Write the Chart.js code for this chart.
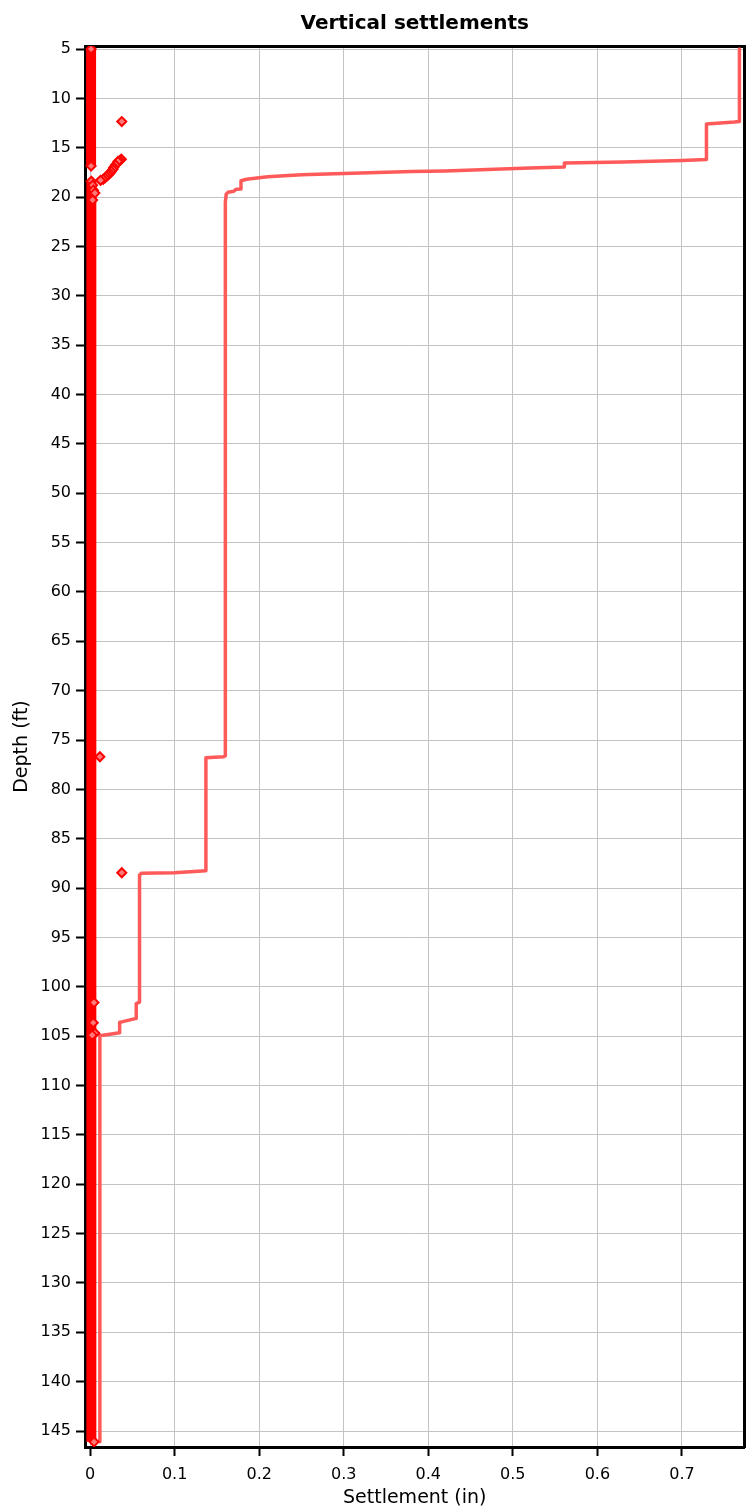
<!DOCTYPE html>
<html>
<head>
<meta charset="utf-8">
<script src="https://cdn.jsdelivr.net/npm/chart.js@4.4.1/dist/chart.umd.min.js"></script>
<style>
  html, body { margin: 0; padding: 0; background: #ffffff; }
  canvas { display: block; }
</style>
</head>
<body>
<canvas id="c" width="751" height="1511"></canvas>
<script>
// ---------- data ----------
const chartTitle = 'Vertical settlements';
const xTitle = 'Settlement (in)';
const yTitle = 'Depth (ft)';

const xTicks = [0, 0.1, 0.2, 0.3, 0.4, 0.5, 0.6, 0.7];
const yTicks = [5, 10, 15, 20, 25, 30, 35, 40, 45, 50, 55, 60, 65, 70, 75, 80, 85, 90, 95, 100, 105, 110, 115, 120, 125, 130, 135, 140, 145];

// cumulative settlement profile (line)
const profileSettlement = [0.768, 0.768, 0.762, 0.729, 0.729, 0.700, 0.630, 0.561, 0.561, 0.520, 0.470, 0.420, 0.380, 0.300, 0.250, 0.210, 0.185, 0.1785, 0.1785, 0.1727, 0.1700, 0.1630, 0.1610, 0.1600, 0.1600, 0.1580, 0.1370, 0.1370, 0.1000, 0.0605, 0.0585, 0.0585, 0.0546, 0.0546, 0.0350, 0.0350, 0.0116, 0.0116];
const profileDepth      = [5.0,   12.35, 12.4,  12.6,  16.2,  16.3,  16.45, 16.55, 16.95, 17.05, 17.2,  17.35, 17.42, 17.6,  17.75, 17.95, 18.2,  18.34,  19.18,  19.2,   19.42,  19.52,  19.7,   20.5,   76.6,   76.7,   76.8,   88.25,  88.45,  88.5,   88.7,   101.55, 101.7,  103.2,  103.6,  104.65, 104.95, 146.1];

// near-zero layer settlements forming a dense band of markers
const bandSettlement = [0.0012, 0.0012, null, 0.0015, 0.0015];
const bandDepth      = [5.0,    16.85,  null, 18.35,  146.1];

// individual layer settlement markers
const markerSettlement = [0.0012, 0.0012, 0.0375, 0.037, 0.035, 0.033, 0.030, 0.028, 0.027, 0.025, 0.0233, 0.0215, 0.0195, 0.0175, 0.0155, 0.0124, 0.0015, 0.003, 0.004, 0.0057, 0.003, 0.0116, 0.0375, 0.0046, 0.0038, 0.0057, 0.0025, 0.0047];
const markerDepth      = [5.0,    16.85,  12.35,  16.17, 16.3,  16.4,  16.75, 17.0,  17.2,  17.4,  17.6,   17.75,  17.9,   18.05,  18.2,   18.3,   18.4,   18.8,  19.3,  19.6,   20.3,  76.7,   88.45,  101.6,  103.65, 104.7,  104.9,  146.1];

const xMin = -0.006, xMax = 0.774;
const yMin = 4.696, yMax = 146.62;

// ---------- build ----------
const toPts = (xs, ys) => xs.map((v, i) => ({ x: v, y: ys[i] }));
const font = 'DejaVu Sans';
const noPad = s => { s.paddingLeft = 0; s.paddingRight = 0; s.paddingTop = 0; s.paddingBottom = 0; };

new Chart(document.getElementById('c').getContext('2d'), {
  type: 'scatter',
  data: {
    datasets: [
      {
        label: 'Layer settlement',
        data: toPts(markerSettlement, markerDepth),
        showLine: false,
        pointStyle: 'rectRot',
        pointRadius: 4.5,
        pointBorderWidth: 2,
        pointBorderColor: '#ff0000',
        pointBackgroundColor: '#ff7a7a',
        xAxisID: 'x', yAxisID: 'y'
      },
      {
        label: 'Layer settlement band',
        data: toPts(bandSettlement, bandDepth),
        showLine: true,
        spanGaps: false,
        borderColor: '#ff0000',
        borderWidth: 10,
        pointRadius: 0,
        xAxisID: 'x', yAxisID: 'y'
      },
      {
        label: 'Cumulative settlement',
        data: toPts(profileSettlement, profileDepth),
        showLine: true,
        borderColor: '#ff5a5a',
        borderWidth: 3.5,
        borderJoinStyle: 'round',
        borderCapStyle: 'round',
        pointRadius: 0,
        xAxisID: 'x', yAxisID: 'y'
      }
    ]
  },
  options: {
    responsive: false,
    devicePixelRatio: 1,
    animation: false,
    layout: { padding: 0 },
    plugins: { legend: { display: false }, tooltip: { enabled: false } },
    scales: {
      x: {
        type: 'linear', position: 'bottom', min: xMin, max: xMax,
        afterBuildTicks: s => { s.ticks = xTicks.map(v => ({ value: v })); },
        afterFit: s => { s.height = 64; noPad(s); },
        ticks: { color: '#000', font: { family: font, size: 16 }, padding: 9, maxRotation: 0, callback: v => String(v) },
        grid: { color: '#c3c3c3', lineWidth: 1, tickColor: '#000', tickLength: 9, tickWidth: 2 },
        border: { color: '#000', width: 3 },
        title: { display: true, text: xTitle, color: '#000', font: { family: font, size: 19 }, padding: { top: 0, bottom: 2 } }
      },
      y: {
        type: 'linear', position: 'left', reverse: true, min: yMin, max: yMax,
        afterBuildTicks: s => { s.ticks = yTicks.map(v => ({ value: v })); },
        afterFit: s => { s.width = 85; noPad(s); },
        ticks: { color: '#000', font: { family: font, size: 16 }, padding: 5, callback: v => String(v) },
        grid: { color: '#c3c3c3', lineWidth: 1, tickColor: '#000', tickLength: 9, tickWidth: 2 },
        border: { color: '#000', width: 3 },
        title: { display: true, text: yTitle, color: '#000', font: { family: font, size: 19 }, padding: { top: 11, bottom: 0 } }
      },
      xTop: {
        type: 'linear', position: 'top', min: xMin, max: xMax,
        afterFit: s => { s.height = 46; noPad(s); },
        ticks: { display: false },
        grid: { display: false, drawTicks: false },
        border: { display: true, color: '#000', width: 3 },
        title: { display: true, text: chartTitle, color: '#000', font: { family: font, size: 20, weight: 'bold' }, padding: { top: 12, bottom: 0 } }
      },
      yRight: {
        type: 'linear', position: 'right', reverse: true, min: yMin, max: yMax,
        afterFit: s => { s.width = 1; noPad(s); },
        ticks: { display: false },
        grid: { display: false, drawTicks: false },
        border: { display: true, color: '#000', width: 3 }
      }
    }
  }
});
</script>
</body>
</html>
